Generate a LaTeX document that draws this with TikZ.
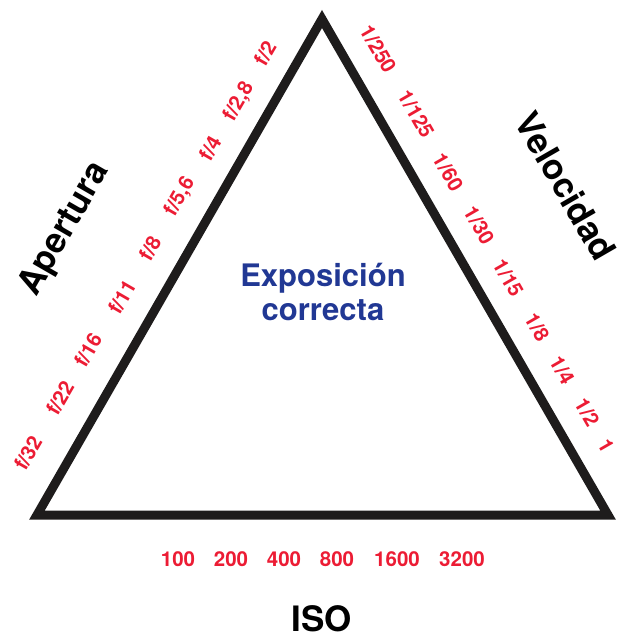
\documentclass[tikz,border=0pt]{standalone}
\usepackage{fontspec}
\setmainfont{TeX Gyre Heros}
\usetikzlibrary{calc}
\definecolor{expred}{RGB}{236,28,52}
\definecolor{expblue}{RGB}{33,56,148}
\definecolor{expblack}{RGB}{30,28,28}
\begin{document}
\begin{tikzpicture}[x=1pt,y=-1pt,
  edge/.style={draw=expblack,line width=9pt,line join=miter},
  val/.style={text=expred,font=\bfseries\fontsize{20.5}{22}\selectfont,inner sep=0pt},
  aval/.style={val,rotate=60},
  sval/.style={val,rotate=-60},
  big/.style={text=black,font=\bfseries\fontsize{35}{38}\selectfont,inner sep=0pt},
  centre/.style={text=expblue,font=\bfseries\fontsize{31}{34}\selectfont,align=center,inner sep=0pt}]
\useasboundingbox (0,0) rectangle (622,638);
\coordinate (BL) at (37,515);
\coordinate (T) at (322,19);
\coordinate (BR) at (608,515);
\draw[edge] (BL) -- (T) -- (BR) -- cycle;
% aperture values
\node[aval] (a32) at (28,453) {f/32};
\node[aval] (a22) at (60,398) {f/22};
\node[aval] (a16) at (88,350) {f/16};
\node[aval] (a11) at (122,297) {f/11};
\node[aval] (a8) at (150,248) {f/8};
\node[aval] (a56) at (180,197) {f/5,6};
\node[aval] (a4) at (210,148) {f/4};
\node[aval] (a28) at (239,102) {f/2,8};
\node[aval] (a2) at (265,53) {f/2};
% shutter values
\node[sval] (s250) at (378,49) {1/250};
\node[sval] (s125) at (416,114) {1/125};
\node[sval] (s60) at (448,172) {1/60};
\node[sval] (s30) at (479,225) {1/30};
\node[sval] (s15) at (508,278) {1/15};
\node[sval] (s8) at (537,327) {1/8};
\node[sval] (s4) at (562,370) {1/4};
\node[sval] (s2) at (587,412) {1/2};
\node[sval] (s1) at (606,446) {1};
% ISO values
\node[val] (i100) at (178,559) {100};
\node[val] (i200) at (231,559) {200};
\node[val] (i400) at (284,559) {400};
\node[val] (i800) at (337,559) {800};
\node[val] (i1600) at (397,559) {1600};
\node[val] (i3200) at (462,559) {3200};
% titles
\node[big,rotate=60] (apert) at (65,229) {Apertura};
\node[big,rotate=-60] (veloc) at (566,186) {Velocidad};
\node[big] (iso) at (322,619) {ISO};
\node[centre] (expo) at (323,292) {Exposición\\correcta};
\end{tikzpicture}
\end{document}
